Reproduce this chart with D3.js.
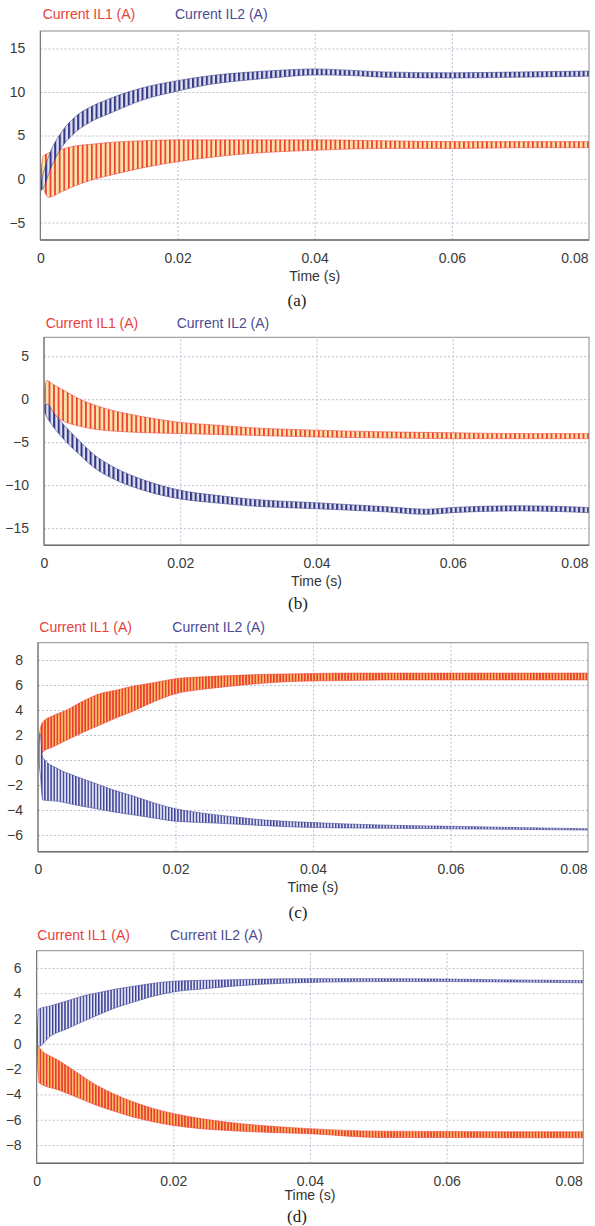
<!DOCTYPE html>
<html>
<head>
<meta charset="utf-8">
<script src="https://cdn.jsdelivr.net/npm/d3@7"></script>
<style>
  html, body { margin: 0; padding: 0; background: #ffffff; }
  svg { display: block; }
</style>
</head>
<body>
<svg id="chart" width="595" height="1226"></svg>
<script>
// ---------------- DATA ----------------
const seriesNames = ["Current IL1 (A)", "Current IL2 (A)"];
const xTicks = [0, 0.02, 0.04, 0.06, 0.08];
const xTickLabels = ["0", "0.02", "0.04", "0.06", "0.08"];
const xDomain = [0, 0.08];
const xTitle = "Time (s)";
const panelLabels = ["(a)", "(b)", "(c)", "(d)"];

const yTicksA = [-5, 0, 5, 10, 15];
const yTicksB = [-15, -10, -5, 0, 5];
const yTicksC = [-6, -4, -2, 0, 2, 4, 6, 8];
const yTicksD = [-8, -6, -4, -2, 0, 2, 4, 6];
const yDomainA = [-7, 17];
const yDomainB = [-17, 7.2];
const yDomainC = [-7.33, 9.38];
const yDomainD = [-9.44, 7.36];

// switching ripple period (s), read from tooth spacing
const ripplePeriodAB = 0.00067;
const ripplePeriodCD = 0.00045;

// Panel (a) envelopes (upper/lower of the ripple band)
const aIL1Time  = [0, 0.0004, 0.0012, 0.003, 0.005, 0.0075, 0.01, 0.015, 0.02, 0.025, 0.03, 0.04, 0.05, 0.06, 0.07, 0.08];
const aIL1Upper = [0.3, 2.6, 3.0, 3.4, 3.8, 4.0, 4.2, 4.4, 4.5, 4.5, 4.5, 4.5, 4.4, 4.3, 4.3, 4.3];
const aIL1Lower = [0, -1.0, -2.1, -1.5, -0.8, -0.1, 0.4, 1.3, 2.0, 2.5, 2.9, 3.3, 3.5, 3.5, 3.6, 3.6];
const aIL2Time  = [0, 0.0005, 0.0015, 0.003, 0.005, 0.0075, 0.01, 0.015, 0.02, 0.025, 0.03, 0.035, 0.04, 0.045, 0.05, 0.06, 0.07, 0.08];
const aIL2Upper = [-0.6, 0.9, 3.2, 5.3, 7.1, 8.35, 9.2, 10.5, 11.3, 11.9, 12.25, 12.5, 12.65, 12.5, 12.3, 12.2, 12.3, 12.4];
const aIL2Lower = [-1.4, -0.9, 1.2, 3.5, 5.3, 6.65, 7.5, 9.1, 10.1, 10.9, 11.35, 11.7, 11.95, 11.9, 11.7, 11.6, 11.7, 11.8];

// Panel (b)
const bIL1Time  = [0, 0.0004, 0.0012, 0.003, 0.005, 0.0075, 0.01, 0.015, 0.02, 0.025, 0.03, 0.04, 0.05, 0.06, 0.07, 0.08];
const bIL1Upper = [0.5, 2.2, 1.8, 1.0, 0.1, -0.7, -1.3, -2.1, -2.7, -3.0, -3.3, -3.6, -3.8, -3.9, -4.0, -4.0];
const bIL1Lower = [0, -0.8, -1.6, -2.6, -3.1, -3.5, -3.7, -3.9, -4.0, -4.1, -4.2, -4.4, -4.5, -4.6, -4.6, -4.6];
const bIL2Time  = [0, 0.0005, 0.0015, 0.003, 0.005, 0.0075, 0.01, 0.015, 0.02, 0.025, 0.03, 0.04, 0.05, 0.056, 0.06, 0.07, 0.08];
const bIL2Upper = [-0.6, -0.6, -1.65, -3.05, -4.7, -6.55, -7.8, -9.5, -10.6, -11.15, -11.6, -12.05, -12.5, -12.8, -12.6, -12.4, -12.6];
const bIL2Lower = [-1.4, -2.2, -3.35, -4.75, -6.3, -8.05, -9.2, -10.7, -11.6, -12.05, -12.4, -12.75, -13.1, -13.4, -13.2, -13.0, -13.2];

// Panel (c)
const cIL1Time  = [0, 0.0003, 0.0008, 0.002, 0.0042, 0.0065, 0.009, 0.0115, 0.0138, 0.017, 0.02, 0.024, 0.028, 0.033, 0.038, 0.045, 0.05, 0.06, 0.07, 0.08];
const cIL1Upper = [0.3, 2.4, 3.1, 3.5, 4.0, 4.7, 5.3, 5.6, 5.9, 6.2, 6.5, 6.65, 6.75, 6.85, 6.9, 6.95, 6.95, 6.95, 6.95, 6.95];
const cIL1Lower = [0.0, 0.3, 0.7, 1.0, 1.6, 2.2, 2.8, 3.4, 3.9, 4.7, 5.3, 5.65, 5.9, 6.15, 6.3, 6.35, 6.4, 6.4, 6.4, 6.4];
const cIL2Time  = [0, 0.0003, 0.0007, 0.0029, 0.0055, 0.0085, 0.011, 0.014, 0.017, 0.02, 0.024, 0.0278, 0.033, 0.04, 0.05, 0.06, 0.07, 0.08];
const cIL2Upper = [0.0, 2.1, 0.2, -0.7, -1.3, -1.9, -2.4, -2.9, -3.45, -3.9, -4.25, -4.5, -4.8, -5.0, -5.2, -5.3, -5.4, -5.5];
const cIL2Lower = [0.0, -1.0, -3.2, -3.3, -3.6, -3.9, -4.15, -4.4, -4.65, -4.9, -5.0, -5.1, -5.25, -5.4, -5.45, -5.5, -5.55, -5.6];

// Panel (d)
const dIL1Time  = [0, 0.0004, 0.0032, 0.006, 0.0087, 0.0115, 0.0142, 0.017, 0.02, 0.024, 0.028, 0.034, 0.04, 0.05, 0.06, 0.07, 0.08];
const dIL1Upper = [0, -0.3, -1.3, -2.3, -3.25, -4.0, -4.6, -5.1, -5.5, -5.9, -6.2, -6.5, -6.7, -6.9, -6.92, -6.95, -6.95];
const dIL1Lower = [0, -3.1, -3.65, -4.25, -4.85, -5.35, -5.8, -6.15, -6.45, -6.7, -6.85, -7.0, -7.1, -7.4, -7.4, -7.42, -7.42];
const dIL2Time  = [0, 0.0003, 0.002, 0.0045, 0.0069, 0.0095, 0.0118, 0.0142, 0.0166, 0.02, 0.0245, 0.0288, 0.0335, 0.0385, 0.045, 0.05, 0.06, 0.07, 0.08];
const dIL2Upper = [0, 2.75, 3.0, 3.4, 3.8, 4.1, 4.35, 4.55, 4.75, 4.95, 5.02, 5.07, 5.12, 5.15, 5.15, 5.15, 5.12, 5.05, 5.0];
const dIL2Lower = [0, -0.2, 0.6, 1.2, 1.8, 2.4, 2.9, 3.3, 3.7, 4.1, 4.35, 4.56, 4.72, 4.83, 4.9, 4.92, 4.92, 4.88, 4.82];

// ---------------- LAYOUT / STYLE ----------------
const zip = (t, u, l) => t.map((v, i) => ({ t: v, hi: u[i], lo: l[i] }));

const panels = [
  { left: 40.4, right: 589, top: 31, bottom: 240, yDomain: yDomainA, yTicks: yTicksA, legY: 14, leg1X: 42.7, leg2X: 175, period: ripplePeriodAB, labelX: 297, titleY: 280.7, labelY: 306,
    s1: zip(aIL1Time, aIL1Upper, aIL1Lower), s2: zip(aIL2Time, aIL2Upper, aIL2Lower), style: "ab" },
  { left: 44, right: 589, top: 337.3, bottom: 545.3, yDomain: yDomainB, yTicks: yTicksB, legY: 322.7, leg1X: 45.7, leg2X: 176.7, period: ripplePeriodAB, labelX: 298, titleY: 585.5, labelY: 609,
    s1: zip(bIL1Time, bIL1Upper, bIL1Lower), s2: zip(bIL2Time, bIL2Upper, bIL2Lower), style: "ab" },
  { left: 38, right: 588, top: 642.7, bottom: 851.7, yDomain: yDomainC, yTicks: yTicksC, legY: 626.7, leg1X: 39.3, leg2X: 172.3, period: ripplePeriodCD, labelX: 298, titleY: 891.7, labelY: 917.5,
    s1: zip(cIL1Time, cIL1Upper, cIL1Lower), s2: zip(cIL2Time, cIL2Upper, cIL2Lower), style: "cd" },
  { left: 36.6, right: 583.3, top: 950.7, bottom: 1163.3, yDomain: yDomainD, yTicks: yTicksD, legY: 935, leg1X: 37.3, leg2X: 170, period: ripplePeriodCD, labelX: 297, titleY: 1199.5, labelY: 1222,
    s1: zip(dIL1Time, dIL1Upper, dIL1Lower), s2: zip(dIL2Time, dIL2Upper, dIL2Lower), style: "cd" }
];

const SANS = "'Liberation Sans', Arial, sans-serif";
const SERIF = "'Liberation Serif', 'Times New Roman', serif";
const RED = "#ec3a34", RED_TXT = "#e8413c";
const BLUE = "#343985", BLUE2 = "#3b4095", BLUE_TXT = "#4b4b94";
const GRID = "#b4b6cc";

const svg = d3.select("#chart");
const defs = svg.append("defs");

panels.forEach((p, i) => {
  const x = d3.scaleLinear().domain(xDomain).range([p.left, p.right]);
  const y = d3.scaleLinear().domain(p.yDomain).range([p.bottom, p.top]);
  const w = p.right - p.left, h = p.bottom - p.top;
  const g = svg.append("g");

  defs.append("clipPath").attr("id", "clip" + i)
    .append("rect").attr("x", p.left).attr("y", p.top).attr("width", w).attr("height", h);

  g.append("rect").attr("x", p.left).attr("y", p.top).attr("width", w).attr("height", h).attr("fill", "#ffffff");

  const yAxis = d3.axisLeft(y).tickValues(p.yTicks).tickSize(-w).tickPadding(15).tickFormat(d3.format("d"));
  const ya = g.append("g").attr("transform", `translate(${p.left},0)`).call(yAxis);
  ya.select(".domain").remove();
  ya.selectAll(".tick line").attr("stroke", GRID).attr("stroke-dasharray", "2,2").attr("stroke-width", 0.9);
  ya.selectAll(".tick text").style("font-size", "14px").style("font-family", SANS).attr("fill", "#3a3a3a");

  const xAxis = d3.axisBottom(x).tickValues(xTicks).tickSize(-h).tickPadding(12.7)
    .tickFormat((d, k) => xTickLabels[k]);
  const xa = g.append("g").attr("transform", `translate(0,${p.bottom})`).call(xAxis);
  xa.select(".domain").remove();
  xa.selectAll(".tick line").attr("stroke", (d) => (d === 0 || d === xDomain[1]) ? "none" : GRID)
    .attr("stroke-dasharray", "2,2").attr("stroke-width", 0.9);
  xa.selectAll(".tick text").style("font-size", "14px").style("font-family", SANS).attr("fill", "#3a3a3a")
    .attr("text-anchor", (d) => d === xDomain[1] ? "end" : "middle")
    .attr("dx", (d) => d === xDomain[1] ? -1 : 0);

  // ripple texture patterns (tooth spacing from ripple period)
  const pw = x(p.period) - x(0);
  const mkPattern = (id, bg, fg, sw) => {
    const pat = defs.append("pattern").attr("id", id).attr("patternUnits", "userSpaceOnUse")
      .attr("x", p.left).attr("y", 0).attr("width", pw).attr("height", 4);
    pat.append("rect").attr("width", pw).attr("height", 4).attr("fill", bg);
    pat.append("rect").attr("x", 0).attr("width", sw).attr("height", 4).attr("fill", fg);
  };
  if (p.style === "ab") {
    mkPattern("p1_" + i, "#fbe3a6", RED, 1.7);
    mkPattern("p2_" + i, "#dfe0f1", BLUE, 2.1);
  } else {
    mkPattern("p1_" + i, "#f7c266", RED, 1.6);
    mkPattern("p2_" + i, "#e2e3f3", BLUE2, 1.4);
  }

  const area = d3.area().x(d => x(d.t)).y0(d => y(d.lo)).y1(d => y(d.hi)).curve(d3.curveMonotoneX);
  const hiLine = d3.line().x(d => x(d.t)).y(d => y(d.hi)).curve(d3.curveMonotoneX);
  const loLine = d3.line().x(d => x(d.t)).y(d => y(d.lo)).curve(d3.curveMonotoneX);

  const plot = g.append("g").attr("clip-path", `url(#clip${i})`);
  const drawSeries = (data, patId, color, lw) => {
    plot.append("path").datum(data).attr("d", area).attr("fill", `url(#${patId})`);
    plot.append("path").datum(data).attr("d", hiLine).attr("fill", "none").attr("stroke", color).attr("stroke-width", lw).attr("stroke-opacity", 0.75);
    plot.append("path").datum(data).attr("d", loLine).attr("fill", "none").attr("stroke", color).attr("stroke-width", lw).attr("stroke-opacity", 0.75);
  };
  drawSeries(p.s1, "p1_" + i, RED, 0.7);
  drawSeries(p.s2, "p2_" + i, p.style === "ab" ? BLUE : BLUE2, 0.7);

  // frame
  g.append("rect").attr("x", p.left).attr("y", p.top).attr("width", w).attr("height", h)
    .attr("fill", "none").attr("stroke", "#8c8c8c").attr("stroke-width", 1);
  g.append("line").attr("x1", p.left).attr("x2", p.right).attr("y1", p.bottom).attr("y2", p.bottom)
    .attr("stroke", "#6e6e6e").attr("stroke-width", 1.5);
  g.append("line").attr("x1", p.left).attr("x2", p.left).attr("y1", p.top).attr("y2", p.bottom)
    .attr("stroke", "#7a7a7a").attr("stroke-width", 1.2);

  // legend
  g.append("text").attr("x", p.leg1X).attr("y", p.legY).attr("dy", "0.35em")
    .style("font-size", "14px").style("font-family", SANS).attr("fill", RED_TXT).text(seriesNames[0]);
  g.append("text").attr("x", p.leg2X).attr("y", p.legY).attr("dy", "0.35em")
    .style("font-size", "14px").style("font-family", SANS).attr("fill", BLUE_TXT).text(seriesNames[1]);

  // x title and panel label
  g.append("text").attr("x", x(0.04)).attr("y", p.titleY).attr("text-anchor", "middle")
    .style("font-size", "14px").style("font-family", SANS).attr("fill", "#333").text(xTitle);
  g.append("text").attr("x", p.labelX).attr("y", p.labelY).attr("text-anchor", "middle")
    .style("font-size", "17px").style("font-family", SERIF).attr("fill", "#222")
    .text(panelLabels[i]);
});
</script>
</body>
</html>
